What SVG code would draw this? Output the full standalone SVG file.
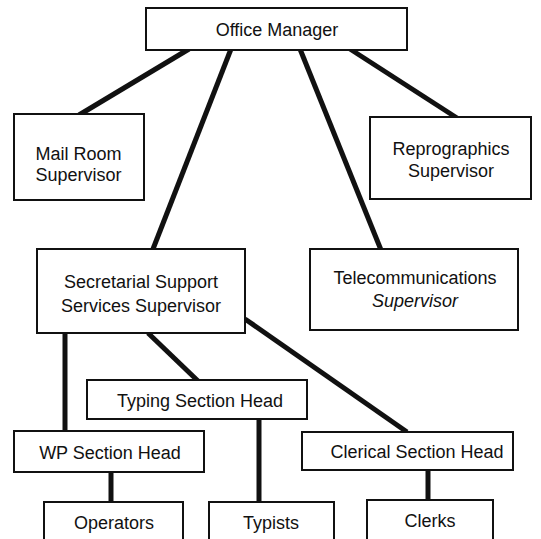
<svg xmlns="http://www.w3.org/2000/svg" width="541" height="539" viewBox="0 0 541 539">
<style>
.box{fill:#fff;stroke:#111;stroke-width:2}
.t{font-family:"Liberation Sans",Arial,Helvetica,sans-serif;font-size:18px;fill:#111;text-anchor:middle}
.i{font-style:italic}
.c{stroke:#111;stroke-width:5;stroke-linecap:butt;fill:none}
</style>
<rect width="541" height="539" fill="#fff"/>
<g id="connectors">
<line class="c" x1="189" y1="49" x2="79" y2="115"/>
<line class="c" x1="231" y1="49" x2="153" y2="249"/>
<line class="c" x1="300" y1="49" x2="381" y2="250"/>
<line class="c" x1="350" y1="49" x2="457" y2="118"/>
<line class="c" x1="65" y1="333" x2="65" y2="432"/>
<line class="c" x1="148" y1="333" x2="198" y2="381"/>
<line class="c" x1="245" y1="319" x2="407" y2="432"/>
<line class="c" x1="259" y1="419" x2="259" y2="503"/>
<line class="c" x1="111" y1="472" x2="111" y2="503"/>
<line class="c" x1="428" y1="470" x2="428" y2="501"/>
</g>
<g id="office-manager">
<rect class="box" x="146" y="8" width="261" height="42"/>
<text class="t" x="277" y="36">Office Manager</text>
</g>
<g id="mail-room">
<rect class="box" x="14" y="114" width="130" height="86"/>
<text class="t" x="78.5" y="160">Mail Room</text>
<text class="t" x="78.5" y="181">Supervisor</text>
</g>
<g id="reprographics">
<rect class="box" x="370" y="117" width="161" height="82"/>
<text class="t" x="451" y="155">Reprographics</text>
<text class="t" x="451" y="177">Supervisor</text>
</g>
<g id="secretarial">
<rect class="box" x="37" y="249" width="208" height="84"/>
<text class="t" x="141" y="288">Secretarial Support</text>
<text class="t" x="141" y="312">Services Supervisor</text>
</g>
<g id="telecommunications">
<rect class="box" x="310" y="249" width="208" height="81"/>
<text class="t" x="415" y="284">Telecommunications</text>
<text class="t i" x="415" y="307">Supervisor</text>
</g>
<g id="typing-head">
<rect class="box" x="87" y="380" width="220" height="39"/>
<text class="t" x="200" y="407">Typing Section Head</text>
</g>
<g id="wp-head">
<rect class="box" x="14" y="431" width="190" height="41"/>
<text class="t" x="110" y="459">WP Section Head</text>
</g>
<g id="clerical-head">
<rect class="box" x="302" y="432" width="211" height="38"/>
<text class="t" x="417" y="458">Clerical Section Head</text>
</g>
<g id="operators">
<rect class="box" x="44" y="502" width="139" height="45"/>
<text class="t" x="114" y="529">Operators</text>
</g>
<g id="typists">
<rect class="box" x="209" y="502" width="125" height="45"/>
<text class="t" x="271" y="529">Typists</text>
</g>
<g id="clerks">
<rect class="box" x="367" y="500" width="126" height="47"/>
<text class="t" x="430" y="527">Clerks</text>
</g>
</svg>
